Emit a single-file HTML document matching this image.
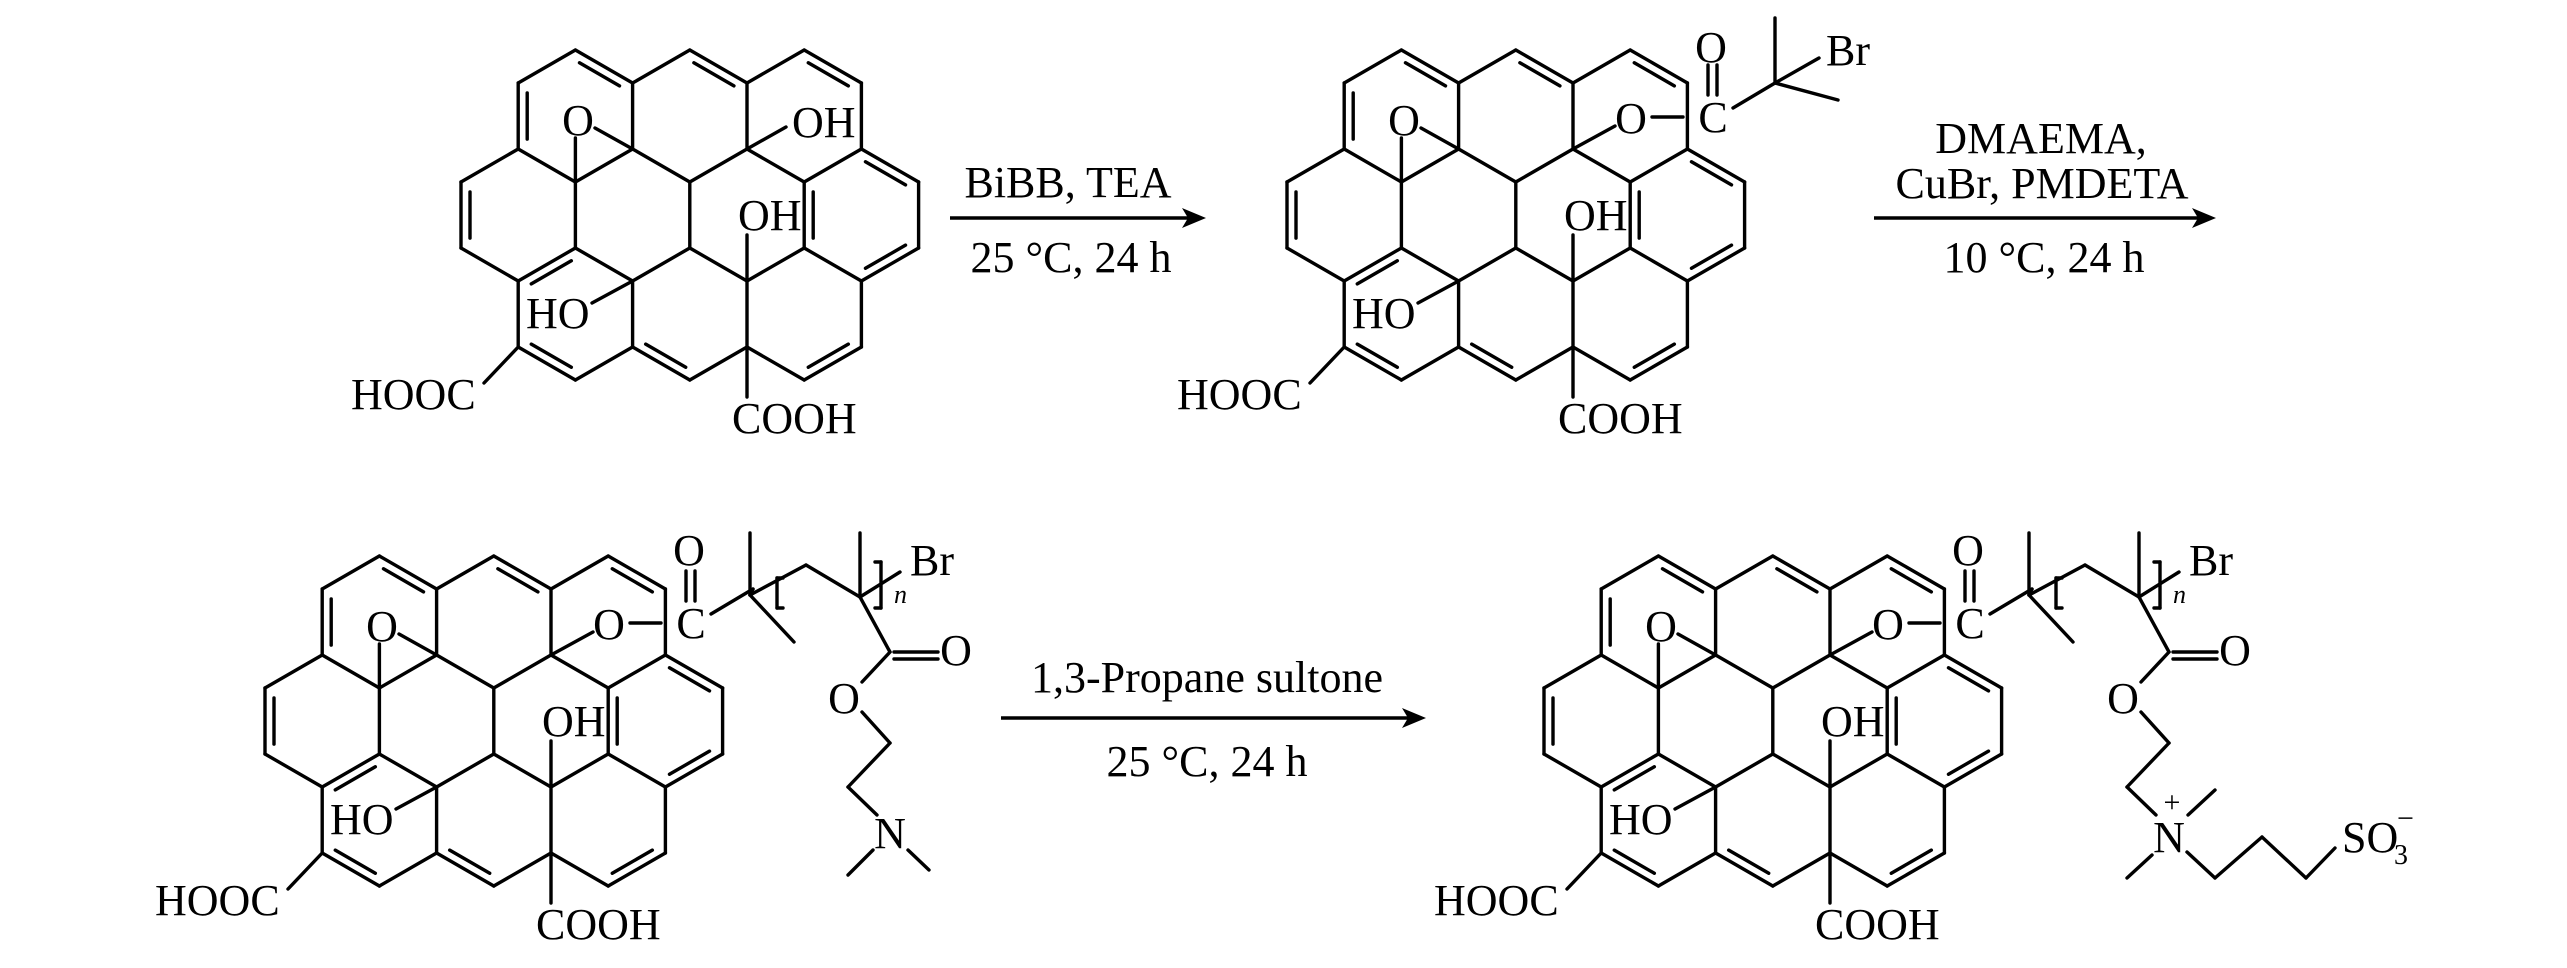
<!DOCTYPE html>
<html><head><meta charset="utf-8"><style>
html,body{margin:0;padding:0;background:#fff;}
svg{display:block;}
text{font-family:"Liberation Serif",serif;font-size:44px;fill:#000;}
</style></head><body>
<svg id="s" width="2567" height="968" viewBox="0 0 2567 968" xmlns="http://www.w3.org/2000/svg">
<g id="L" stroke="#000" stroke-width="3.4" stroke-linecap="round" fill="none"></g>
<!-- arrows -->
<g stroke="#000" stroke-width="3.4">
<line x1="950" y1="218" x2="1190" y2="218"/>
<line x1="1874" y1="218" x2="2200" y2="218"/>
<line x1="1001" y1="718" x2="1410" y2="718"/>
</g>
<path d="M1206 218 L1182 208 L1188 218 L1182 228 Z" fill="#000"/>
<path d="M2216 218 L2192 208 L2198 218 L2192 228 Z" fill="#000"/>
<path d="M1426 718 L1402 708 L1408 718 L1402 728 Z" fill="#000"/>
<text x="1068" y="197" text-anchor="middle">BiBB, TEA</text>
<text x="1071" y="272" text-anchor="middle">25 °C, 24 h</text>
<text x="2041" y="153" text-anchor="middle">DMAEMA,</text>
<text x="2042" y="198" text-anchor="middle">CuBr, PMDETA</text>
<text x="2044" y="272" text-anchor="middle">10 °C, 24 h</text>
<text x="1207" y="692" text-anchor="middle">1,3-Propane sultone</text>
<text x="1207" y="776" text-anchor="middle">25 °C, 24 h</text>

<!-- mol1 -->
<text x="578" y="135" text-anchor="middle">O</text>
<text x="792" y="137">OH</text>
<text x="738" y="230">OH</text>
<text x="526" y="328">HO</text>
<text x="351" y="409">HOOC</text>
<text x="732" y="433">COOH</text>
<!-- mol2 -->
<text x="1404" y="135" text-anchor="middle">O</text>
<text x="1564" y="230">OH</text>
<text x="1352" y="328">HO</text>
<text x="1177" y="409">HOOC</text>
<text x="1558" y="433">COOH</text>
<text x="1631" y="133" text-anchor="middle">O</text>
<text x="1713" y="132" text-anchor="middle">C</text>
<text x="1711" y="62" text-anchor="middle">O</text>
<text x="1826" y="65">Br</text>
<!-- mol3 -->
<text x="382" y="641" text-anchor="middle">O</text>
<text x="542" y="736">OH</text>
<text x="330" y="834">HO</text>
<text x="155" y="915">HOOC</text>
<text x="536" y="939">COOH</text>
<text x="609" y="639" text-anchor="middle">O</text>
<text x="691" y="638" text-anchor="middle">C</text>
<text x="689" y="565" text-anchor="middle">O</text>
<text x="910" y="575">Br</text>
<text x="894" y="603" style="font-size:26px;font-style:italic">n</text>
<text x="956" y="665" text-anchor="middle">O</text>
<text x="844" y="713" text-anchor="middle">O</text>
<text x="890" y="848" text-anchor="middle">N</text>
<!-- mol4 -->
<text x="1661" y="641" text-anchor="middle">O</text>
<text x="1821" y="736">OH</text>
<text x="1609" y="834">HO</text>
<text x="1434" y="915">HOOC</text>
<text x="1815" y="939">COOH</text>
<text x="1888" y="639" text-anchor="middle">O</text>
<text x="1970" y="638" text-anchor="middle">C</text>
<text x="1968" y="565" text-anchor="middle">O</text>
<text x="2189" y="575">Br</text>
<text x="2173" y="603" style="font-size:26px;font-style:italic">n</text>
<text x="2235" y="665" text-anchor="middle">O</text>
<text x="2123" y="713" text-anchor="middle">O</text>
<text x="2169" y="852" text-anchor="middle">N</text>
<text x="2172" y="812" text-anchor="middle" style="font-size:30px">+</text>
<text x="2342" y="852">SO</text>
<text x="2394" y="864" style="font-size:28px">3</text>
<text x="2397" y="828" style="font-size:30px">−</text>
</svg>
<script>
var G=document.getElementById('L'),NS='http://www.w3.org/2000/svg';
function ln(a,b,c,d){var e=document.createElementNS(NS,'line');e.setAttribute('x1',a);e.setAttribute('y1',b);e.setAttribute('x2',c);e.setAttribute('y2',d);G.appendChild(e);}
var R=[0,33,99,132,198,231,297,330];
function core(ox,oy,top){
 function P(c,r){return [ox+57.2*c,oy+R[r]];}
 function E(a,b,c,d){var p=P(a,b),q=P(c,d);ln(p[0],p[1],q[0],q[1]);}
 var S=[[1,1,2,0],[3,1,4,0],[5,1,6,0],[3,1,3,2],[5,1,5,2],[7,1,7,2],
 [0,3,1,2],[1,2,2,3],[2,3,3,2],[3,2,4,3],[4,3,5,2],[5,2,6,3],[6,3,7,2],[8,3,8,4],
 [2,3,2,4],[4,3,4,4],[0,4,1,5],[2,4,3,5],[3,5,4,4],[4,4,5,5],[5,5,6,4],[6,4,7,5],
 [1,5,1,6],[3,5,3,6],[5,5,5,6],[7,5,7,6],[2,7,3,6],[4,7,5,6],[5,6,6,7]];
 S.forEach(function(e){E(e[0],e[1],e[2],e[3]);});
 var u=(R[1]+R[2])/2,m=(R[3]+R[4])/2,l=(R[5]+R[6])/2;
 var D=[[2,0,3,1,2,u],[4,0,5,1,4,u],[6,0,7,1,6,u],[1,1,1,2,2,u],[0,3,0,4,1,m],[7,2,8,3,7,m],
 [7,5,8,4,7,m],[6,3,6,4,7,m],[1,5,2,4,2,l],[1,6,2,7,2,l],[3,6,4,7,4,l],[6,7,7,6,6,l]];
 D.forEach(function(d){var p=P(d[0],d[1]),q=P(d[2],d[3]);ln(p[0],p[1],q[0],q[1]);
  var cx=ox+57.2*d[4],cy=oy+d[5];
  var mx=(p[0]+q[0])/2,my=(p[1]+q[1])/2,dx=cx-mx,dy=cy-my,L=Math.hypot(dx,dy),o=9;
  var ox2=dx/L*o,oy2=dy/L*o,f=0.15;
  var a=[p[0]+(q[0]-p[0])*f+ox2,p[1]+(q[1]-p[1])*f+oy2],b=[q[0]+(p[0]-q[0])*f+ox2,q[1]+(p[1]-q[1])*f+oy2];
  ln(a[0],a[1],b[0],b[1]);});
 function r(a,b,c,d){ln(ox+a,oy+b,ox+c,oy+d);}
 var c2=114.4,c3=171.6,c5=286,c1=57.2;
 // epoxide
 r(c2,88,c2,R[3]); r(134,78,c3,R[2]);
 // OH mid, HO, HOOC, COOH
 r(c5,R[5],c5,185); r(c3,R[5],131,253); r(c1,R[6],23,333); r(c5,R[6],c5,347);
 if(top==0){ r(c5,R[2],325,77); }
 else{
  r(c5,R[2],328,76); r(365,67,396,67); r(421,15,421,45); r(430,15,430,45); r(446,58,488,33);
  if(top==1){ r(488,33,488,-32); r(488,33,532,8); r(488,33,551,50);}
  else{
   r(488,33,485,39);
   r(485,39,485,-23); r(485,39,529,86); r(485,39,541,9);
   r(541,9,595,41); r(595,41,595,-23); r(595,41,635,16); r(595,41,625,96);
   r(512,22,512,52); r(512,22,518,22); r(512,52,518,52);
   r(616,6,616,52); r(616,6,610,6); r(616,52,610,52);
   r(629,96,673,96); r(629,103,673,103);
   r(625,96,597,126); r(597,156,625,187); r(625,187,583,231);
   if(top==2){ r(583,231,612,259); r(608,294,583,319); r(643,294,664,314);}
   else{ r(583,231,612,259); r(644,259,671,234); r(608,299,583,322);
    r(643,296,671,322); r(671,322,718,281); r(718,281,762,322); r(762,322,791,292);}
  }
 }
}
core(461,50,0); core(1287,50,1); core(265,556,2); core(1544,556,3);
</script>
</body></html>
